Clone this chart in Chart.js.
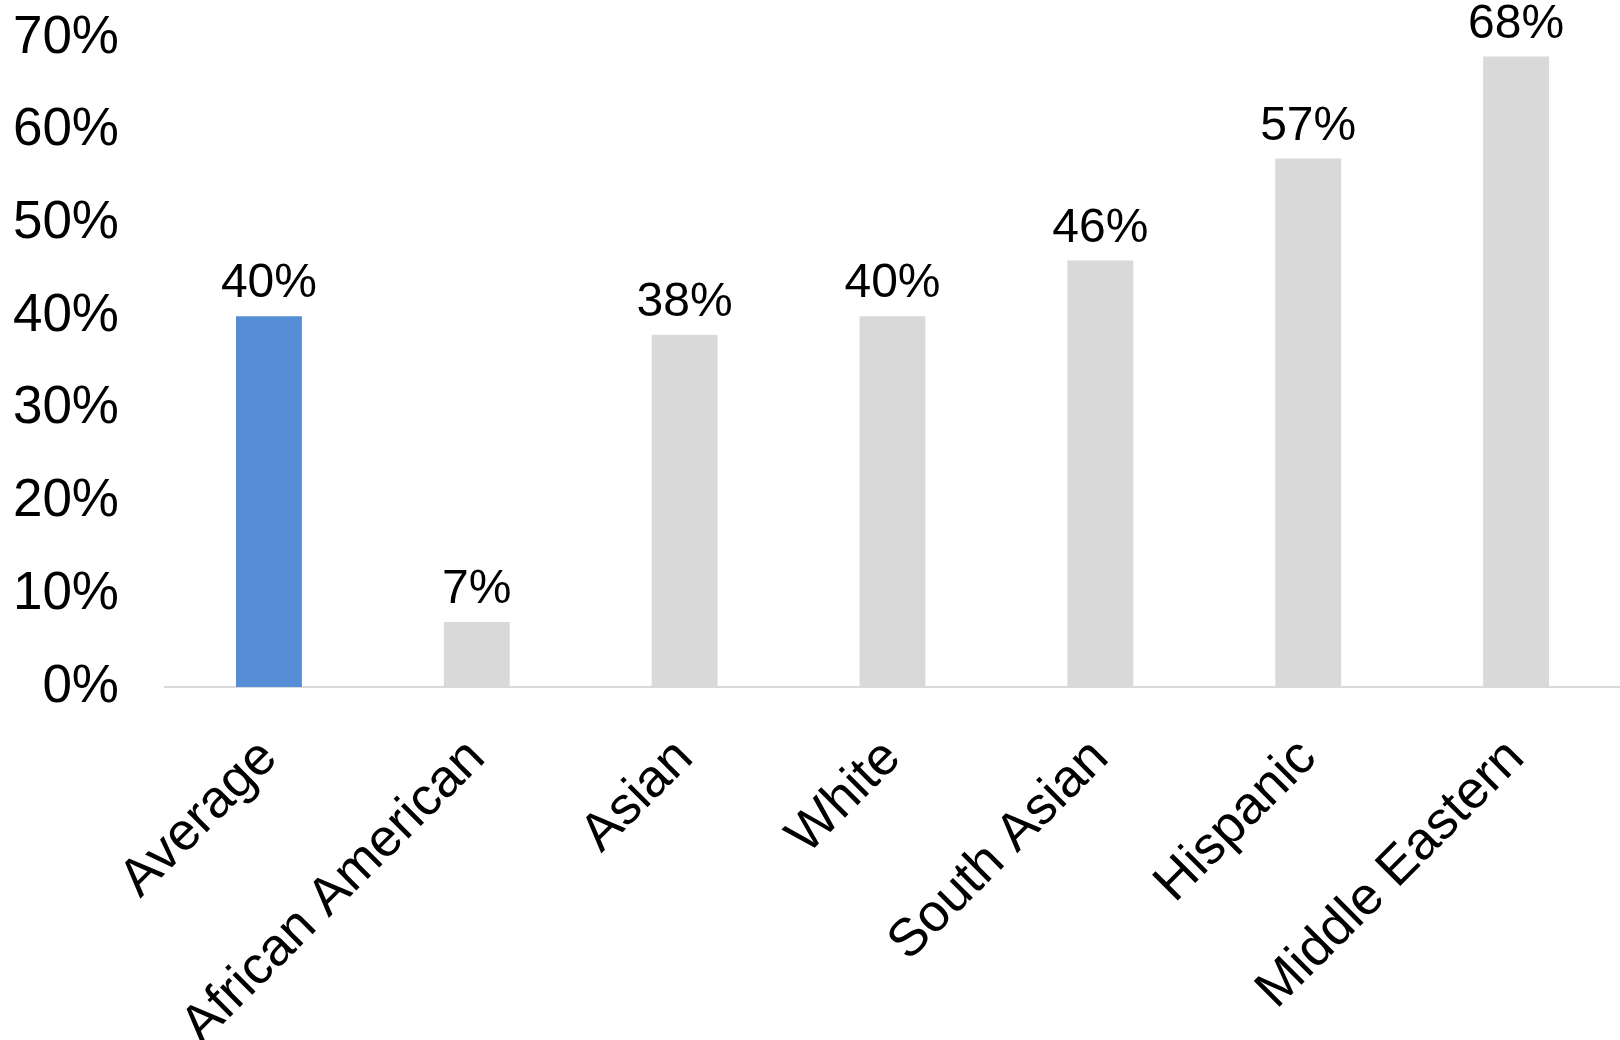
<!DOCTYPE html>
<html lang="en">
<head>
    <meta charset="UTF-8">
    <title>Share by group</title>
    <script src="https://cdn.jsdelivr.net/npm/chart.js"></script>
    <style>
        html, body { margin: 0; padding: 0; background: #fff; }
        #wrap { width: 1620px; height: 1040px; }
    </style>
</head>
<body>
    <div id="wrap">
        <canvas id="chart-bar" width="1620" height="1040"></canvas>
    </div>

    <script>
        const groups = ['Average', 'African American', 'Asian', 'White', 'South Asian', 'Hispanic', 'Middle Eastern'];
        const shares = [40, 7, 38, 40, 46, 57, 68];
        const yTicks = [0, 10, 20, 30, 40, 50, 60, 70];

        const fontFamily = '"Liberation Sans", Arial, sans-serif';

        // percent labels on top of each bar
        const barLabels = {
            id: 'barLabels',
            afterDatasetsDraw(chart) {
                const ctx = chart.ctx;
                const meta = chart.getDatasetMeta(0);
                ctx.save();
                ctx.font = '48px ' + fontFamily;
                ctx.fillStyle = '#000';
                ctx.textAlign = 'center';
                ctx.textBaseline = 'alphabetic';
                meta.data.forEach((bar, i) => {
                    ctx.fillText(shares[i] + '%', bar.x, bar.y - 19);
                });
                ctx.restore();
            }
        };

        new Chart(document.getElementById('chart-bar'), {
            type: 'bar',
            data: {
                labels: groups,
                datasets: [{
                    data: shares,
                    backgroundColor: shares.map((v, i) => i === 0 ? '#558ED5' : '#D9D9D9'),
                    borderWidth: 0,
                    categoryPercentage: 1,
                    barPercentage: 0.317
                }]
            },
            options: {
                responsive: false,
                animation: false,
                layout: { padding: { top: 38, right: 0, bottom: 0, left: 0 } },
                plugins: {
                    legend: { display: false },
                    tooltip: { enabled: false }
                },
                scales: {
                    x: {
                        grid: { display: false },
                        border: { color: '#D9D9D9', width: 2 },
                        ticks: {
                            color: '#000',
                            font: { family: fontFamily, size: 53 },
                            minRotation: 45,
                            maxRotation: 45,
                            autoSkip: false,
                            padding: 32
                        },
                        afterFit(scale) { scale.height = 353; }
                    },
                    y: {
                        min: 0,
                        max: 70,
                        grid: { display: false },
                        border: { display: false },
                        afterBuildTicks(scale) { scale.ticks = yTicks.map(v => ({ value: v })); },
                        ticks: {
                            color: '#000',
                            font: { family: fontFamily, size: 53 },
                            padding: 38,
                            callback: v => v + '%'
                        },
                        afterFit(scale) {
                            scale.width = 165;
                            scale.paddingTop = 0;
                            scale.paddingBottom = 0;
                        }
                    }
                }
            },
            plugins: [barLabels]
        });
    </script>
</body>
</html>
